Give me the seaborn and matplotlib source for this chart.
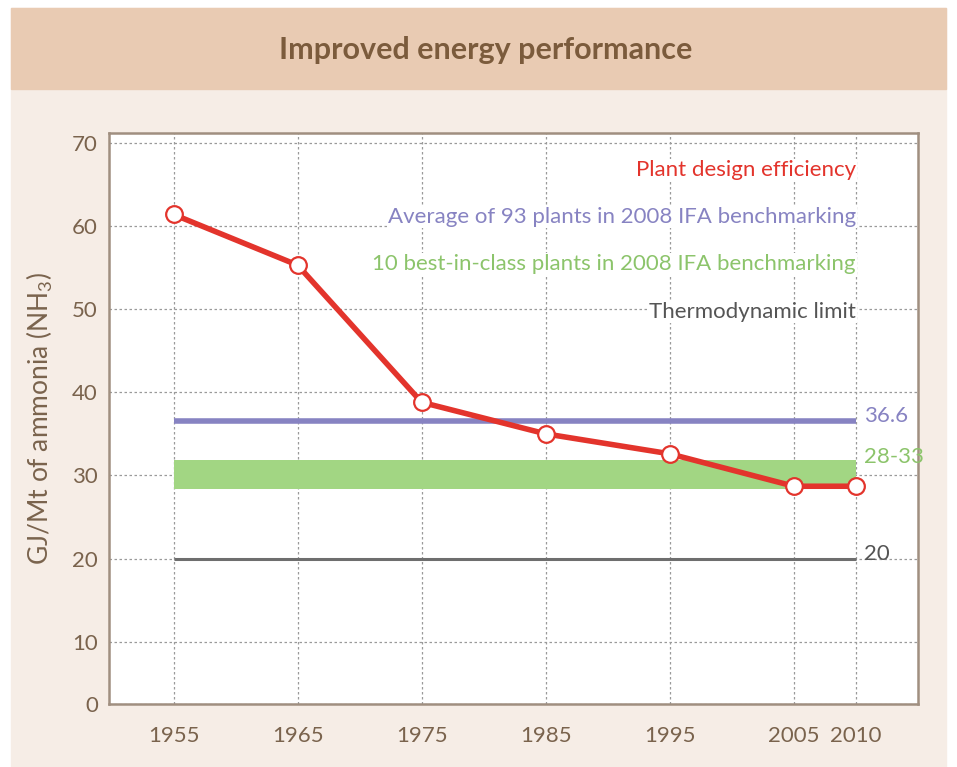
import numpy as np
import pandas as pd
import matplotlib
matplotlib.use("Agg")
import matplotlib.pyplot as plt
from matplotlib.patches import Rectangle
import seaborn as sns

# data
years = [1955, 1965, 1975, 1985, 1995, 2005, 2010]
efficiency = [61.4, 55.3, 38.8, 35.0, 32.6, 28.7, 28.7]
avg_93_plants = 36.6
best_class_low = 28.4
best_class_high = 31.8
thermo_limit = 20
y_ticks = [10, 20, 30, 40, 50, 60, 70]

series_labels = ["Plant design efficiency",
                 "Average of 93 plants in 2008 IFA benchmarking",
                 "10 best-in-class plants in 2008 IFA benchmarking",
                 "Thermodynamic limit"]
value_labels = ["36.6", "28-33", "20"]

red = "#e3342c"
purple = "#8783c2"
green = "#a2d683"
green_txt = "#8cc46b"
grey_line = "#6e6e6e"
grey_txt = "#555555"
brown = "#7a634d"

sns.set_style("white")
plt.rcParams["font.family"] = ["Lato", "DejaVu Sans"]
plt.rcParams["mathtext.default"] = "regular"

df = pd.DataFrame({"year": years, "value": efficiency})

fig = plt.figure(figsize=(9.57, 7.67), dpi=100)
fig.patch.set_facecolor("white")
# panel background and title band
fig.patches.append(Rectangle((11 / 957, 0), 935 / 957, 1 - 8 / 767,
                             transform=fig.transFigure, color="#f6ede6", zorder=-2))
fig.patches.append(Rectangle((11 / 957, 1 - 89 / 767), 935 / 957, 81 / 767,
                             transform=fig.transFigure, color="#e9cbb3", zorder=-1))
fig.text(0.507, 1 - 50 / 767, "Improved energy performance", ha="center", va="center",
         fontsize=22, fontweight="bold", color="#7b5b3c")

ax = fig.add_axes([109 / 957, 1 - 704 / 767, 809 / 957, 571 / 767])
ax.set_facecolor("white")

x0, x1 = years[0], years[-1]
ax.fill_between([x0, x1], best_class_low, best_class_high, color=green, lw=0, zorder=2)
ax.hlines(avg_93_plants, x0, x1, color=purple, lw=4, zorder=3)
ax.hlines(thermo_limit, x0, x1, color=grey_line, lw=2.2, zorder=3)

sns.lineplot(data=df, x="year", y="value", ax=ax, color=red, lw=4, zorder=5,
             marker="o", markersize=12, markerfacecolor="white",
             markeredgecolor=red, markeredgewidth=1.6)

ax.set_xlim(1949.8, 2015.0)
ax.set_ylim(2.5, 71.2)
ax.set_xticks(years)
ax.set_xticklabels([str(y) for y in years])
ax.set_yticks([2.5] + y_ticks)
ax.set_yticklabels(["0"] + [str(v) for v in y_ticks])
ax.tick_params(axis="x", length=0, pad=16, labelsize=16, labelcolor=brown)
ax.tick_params(axis="y", length=0, pad=8, labelsize=16, labelcolor=brown)
ax.grid(True, color="#9a9a9a", lw=0.9, ls=(0, (2, 2)))
ax.set_axisbelow(True)
for s in ax.spines.values():
    s.set_color("#a08f80")
    s.set_linewidth(1.8)
ax.set_xlabel("")
ax.set_ylabel("GJ/Mt of ammonia (NH$_3$)", fontsize=19, color=brown, labelpad=12)

# series labels, right aligned near 2010
label_y = [66.7, 61.1, 55.4, 49.7]
label_c = [red, purple, green_txt, grey_txt]
for txt, yy, c in zip(series_labels, label_y, label_c):
    ax.text(x1, yy, txt, ha="right", va="center", fontsize=16, color=c,
            bbox=dict(facecolor="white", edgecolor="none", pad=1))

# value labels to the right of the reference lines
for txt, yy, c in zip(value_labels, [avg_93_plants + 0.5, best_class_high + 0.4, thermo_limit + 0.5],
                      [purple, green_txt, grey_txt]):
    ax.annotate(txt, (x1, yy), xytext=(6, 0), textcoords="offset points",
                ha="left", va="center", fontsize=16, color=c)

fig.savefig("out.png", dpi=100)
